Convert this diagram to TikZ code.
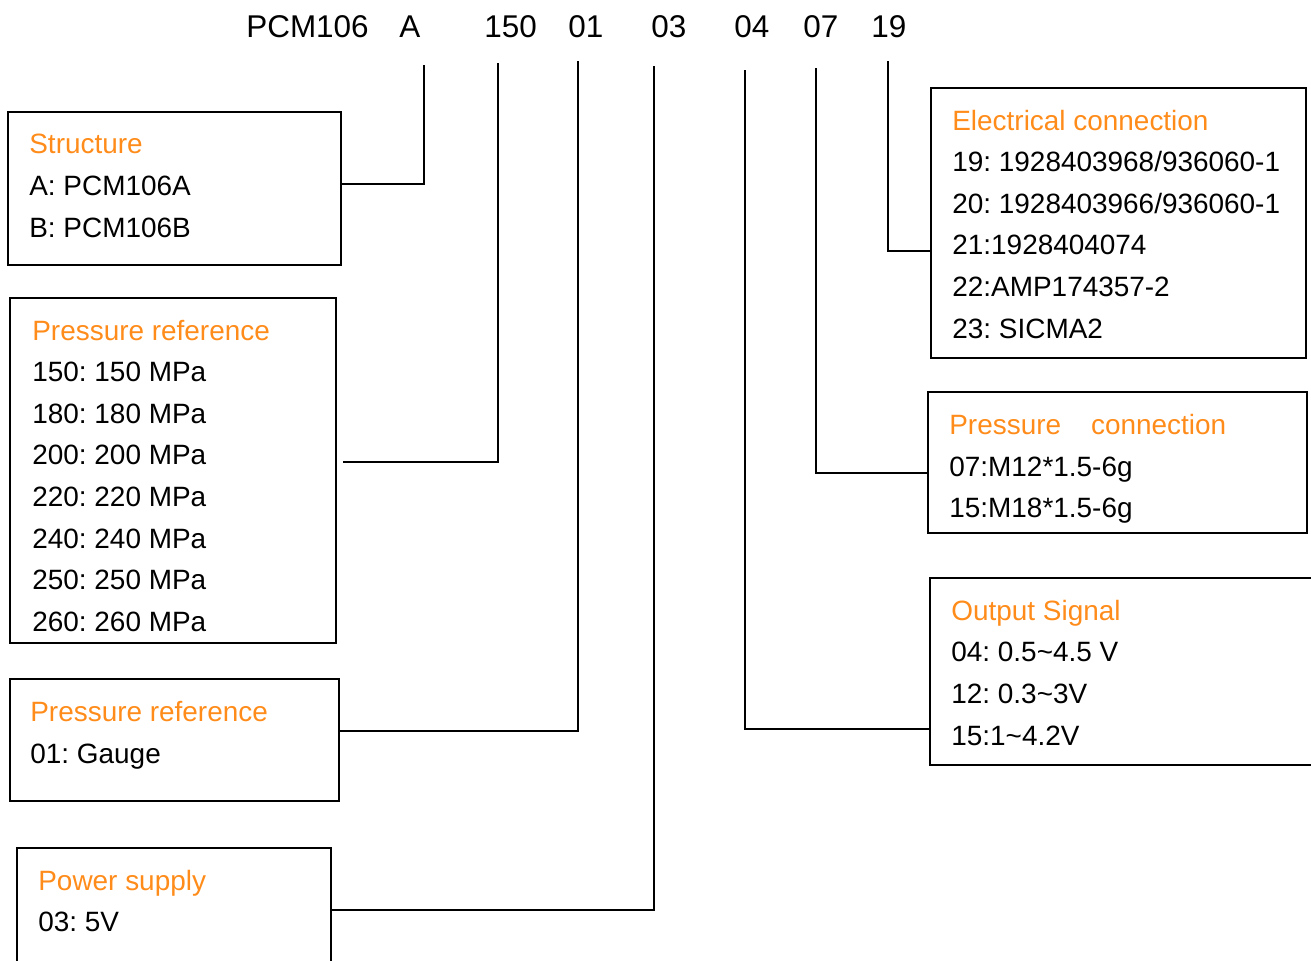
\documentclass[tikz,border=0pt]{standalone}
\usepackage{fontspec}
\setmainfont{Liberation Sans}
\frenchspacing
\usetikzlibrary{fit}
\definecolor{headorange}{RGB}{255,140,26}
\tikzset{
  codebox/.style={draw, line width=1.1pt, inner sep=0pt},
  link/.style={line width=1.1pt},
  code/.style={anchor=base west, inner sep=0pt, font=\fontsize{17.9}{21}\selectfont},
  head/.style={anchor=base west, inner sep=0pt, text=headorange, font=\fontsize{15.9}{19}\selectfont},
  item/.style={anchor=base west, inner sep=0pt, font=\fontsize{15.9}{19}\selectfont},
}
\begin{document}
\begin{tikzpicture}[x=0.02cm,y=-0.02cm]
	  \useasboundingbox (0,0) rectangle (1311,960);
	  \clip (0,0) rectangle (1311,960);
	  % model code
	  \node[code] (pcm) at (246,37) {PCM106};
	  \node[code] (cA) at (399,37) {A};
	  \node[code] (c150) at (484,37) {150};
	  \node[code] (c01) at (568,37) {01};
	  \node[code] (c03) at (651,37) {03};
	  \node[code] (c04) at (734,37) {04};
	  \node[code] (c07) at (803,37) {07};
	  \node[code] (c19) at (871,37) {19};
	  % left boxes
	  \node[codebox, fit={(8,112) (341,265)}] (struct) {};
	  \node[head] (structH) at (29,153) {Structure};
	  \foreach \txt [count=\i] in {A: PCM106A, B: PCM106B}
	    \node[item] (struct\i) at (29,{153+42*\i}) {\txt};
	  \node[codebox, fit={(10,298) (336,643)}] (pref) {};
	  \node[head] (prefH) at (32,340) {Pressure reference};
	  \foreach \txt [count=\i] in {150: 150 MPa, 180: 180 MPa, 200: 200 MPa, 220: 220 MPa, 240: 240 MPa, 250: 250 MPa, 260: 260 MPa}
	    \node[item] (pref\i) at (32,{340+41.6*\i}) {\txt};
	  \node[codebox, fit={(10,679) (339,801)}] (ptype) {};
	  \node[head] (ptypeH) at (30,721) {Pressure reference};
	  \node[item] (ptype1) at (30,763) {01: Gauge};
	  \node[codebox, fit={(17,848) (331,990)}] (power) {};
	  \node[head] (powerH) at (38,890) {Power supply};
	  \node[item] (power1) at (38,931) {03: 5V};
	  % right boxes
	  \node[codebox, fit={(931,88) (1306,358)}] (elec) {};
	  \node[head] (elecH) at (952,130) {Electrical connection};
	  \foreach \txt [count=\i] in {19: 1928403968/936060-1, 20: 1928403966/936060-1, 21:1928404074, 22:AMP174357-2, 23: SICMA2}
	    \node[item] (elec\i) at (952,{130+41.6*\i}) {\txt};
	  \node[codebox, fit={(928,392) (1307,533)}] (pcon) {};
	  \node[head] (pconH) at (949,434) {Pressure\hspace{0.6cm}connection};
	  \node[item] (pcon1) at (949,476) {07:M12*1.5-6g};
	  \node[item] (pcon2) at (949,517) {15:M18*1.5-6g};
	  \node[codebox, fit={(930,578) (1330,765)}] (out) {};
	  \node[head] (outH) at (951,620) {Output Signal};
	  \node[item] (out1) at (951,661) {04: 0.5\textasciitilde4.5 V};
	  \node[item] (out2) at (951,703) {12: 0.3\textasciitilde3V};
	  \node[item] (out3) at (951,745) {15:1\textasciitilde4.2V};
	  % connectors
	  \coordinate (tA) at (424,65);   \coordinate (jA) at (424,184);
	  \coordinate (t150) at (498,63); \coordinate (j150) at (498,462);
	  \coordinate (t01) at (578,61);  \coordinate (j01) at (578,731);
	  \coordinate (t03) at (654,66);  \coordinate (j03) at (654,910);
	  \coordinate (t04) at (745,70);  \coordinate (j04) at (745,729);
	  \coordinate (t07) at (816,68);  \coordinate (j07) at (816,473);
	  \coordinate (t19) at (888,61);  \coordinate (j19) at (888,251);
	  \draw[link] (tA) -- (jA) -- (struct.east |- jA);
	  \draw[link] (t150) -- (j150) -- ([xshift=0.12cm]pref.east |- j150);
	  \draw[link] (t01) -- (j01) -- (ptype.east |- j01);
	  \draw[link] (t03) -- (j03) -- (power.east |- j03);
	  \draw[link] (t04) -- (j04) -- (out.west |- j04);
	  \draw[link] (t07) -- (j07) -- (pcon.west |- j07);
	  \draw[link] (t19) -- (j19) -- (elec.west |- j19);
	\end{tikzpicture}
\end{document}
